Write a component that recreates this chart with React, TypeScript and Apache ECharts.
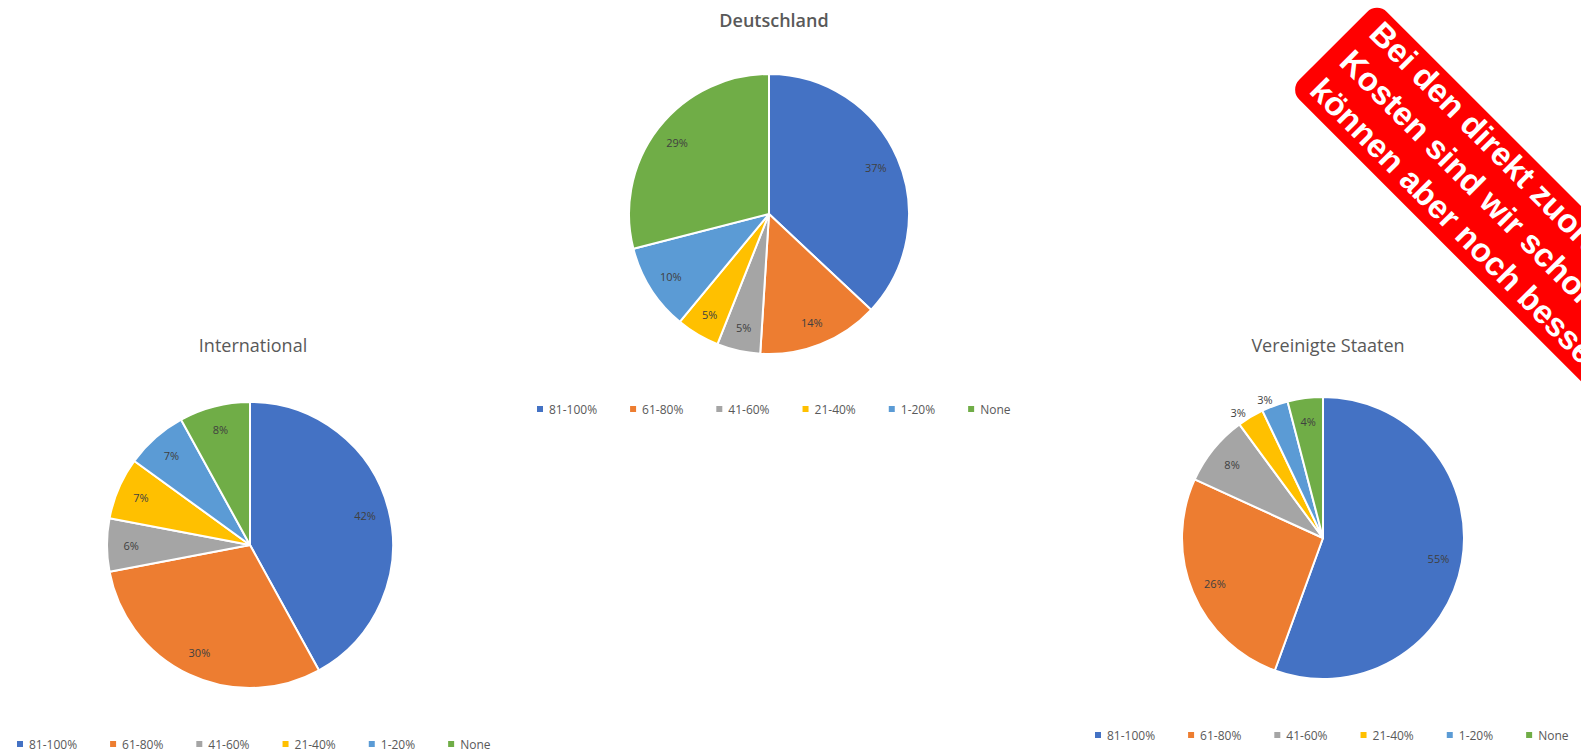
import React, { useEffect, useRef } from "react";
import * as echarts from "echarts";

const categories = ["81-100%", "61-80%", "41-60%", "21-40%", "1-20%", "None"];
const colors = ["#4472C4", "#ED7D31", "#A5A5A5", "#FFC000", "#5B9BD5", "#70AD47"];

const deutschland = [37, 14, 5, 5, 10, 29];
const international = [42, 30, 6, 7, 7, 8];
const usa = [55, 26, 8, 3, 3, 4];

const titles = ["Deutschland", "International", "Vereinigte Staaten"];
const bannerLines = [
  "Bei den direkt zuordenbaren",
  "Kosten sind wir schon gut,",
  "können aber noch besser werden!",
];

type PieCfg = {
  name: string;
  values: number[];
  center: [number, number];
  r: number;
  outside?: number[];
};

export default function App() {
  const ref = useRef<HTMLDivElement>(null);
  useEffect(() => {
    if (!ref.current) return;
    const chart = echarts.init(ref.current, undefined, { renderer: "svg" });

    const pies: PieCfg[] = [
      { name: titles[0], values: deutschland, center: [769, 214], r: 140 },
      { name: titles[1], values: international, center: [250, 545], r: 143 },
      { name: titles[2], values: usa, center: [1323, 538], r: 141, outside: [3, 4] },
    ];

    const series: any[] = [];
    pies.forEach((p) => {
      series.push({
        type: "pie",
        name: p.name,
        center: p.center,
        radius: [0, p.r],
        startAngle: 90,
        clockwise: true,
        label: { show: false },
        labelLine: { show: false },
        itemStyle: { borderColor: "#ffffff", borderWidth: 2 },
        emphasis: { disabled: true },
        data: categories.map((c, i) => ({
          name: c,
          value: p.values[i],
          itemStyle: { color: colors[i] },
        })),
      });
      series.push({
        type: "pie",
        name: p.name + " labels",
        center: p.center,
        radius: [p.r * 0.62, p.r],
        startAngle: 90,
        clockwise: true,
        silent: true,
        itemStyle: { color: "transparent", borderWidth: 0 },
        label: {
          show: true,
          position: "inside",
          formatter: "{c}%",
          color: "#404040",
          fontSize: 11,
          fontFamily: "Open Sans",
        },
        labelLine: { show: false, length: 4, length2: 0 },
        emphasis: { disabled: true },
        data: categories.map((c, i) => {
          const out = p.outside && p.outside.includes(i);
          return {
            name: c,
            value: p.values[i],
            label: out ? { position: "outside", distanceToLabelLine: 0 } : undefined,
            labelLine: out ? { show: false, length: 6, length2: 0 } : undefined,
          };
        }),
      });
    });

    const titleStyle = { color: "#595959", fontSize: 18, fontWeight: "normal" as const, fontFamily: "Open Sans" };
    const legendBase = {
      data: categories,
      itemWidth: 8,
      itemHeight: 8,
      itemGap: 31,
      icon: "rect",
      selectedMode: false,
      textStyle: { color: "#595959", fontSize: 12, fontFamily: "Open Sans" },
    };

    const banner = {
      type: "group",
      x: 1377,
      y: 2,
      rotation: -Math.PI / 4,
      children: [
        {
          type: "rect",
          shape: { x: 0, y: 0, width: 700, height: 124, r: 14 },
          style: { fill: "#FF0000" },
        },
        ...bannerLines.map((t, i) => ({
          type: "text",
          x: 17 - i * 1,
          y: 19 + i * 41,
          style: {
            text: t,
            fill: "#ffffff",
            fontFamily: "Arial, 'Liberation Sans', sans-serif",
            fontWeight: "bold",
            fontSize: 33,
            verticalAlign: "middle",
            align: "left",
          },
        })),
      ],
    };

    chart.setOption({
      animation: false,
      backgroundColor: "#ffffff",
      title: [
        { text: titles[0], left: 769, top: 6, textAlign: "center", textStyle: { ...titleStyle, fontWeight: 600 } },
        { text: titles[1], left: 248, top: 331, textAlign: "center", textStyle: titleStyle },
        { text: titles[2], left: 1323, top: 331, textAlign: "center", textStyle: titleStyle },
      ],
      legend: [
        { ...legendBase, left: 530, top: 398 },
        { ...legendBase, left: 10, top: 733 },
        { ...legendBase, left: 1088, top: 724 },
      ],
      series,
      graphic: [banner],
    });
    return () => chart.dispose();
  }, []);
  return (
    <div
      ref={ref}
      style={{ position: "fixed", left: 0, top: 0, width: 1581, height: 755 }}
    />
  );
}
